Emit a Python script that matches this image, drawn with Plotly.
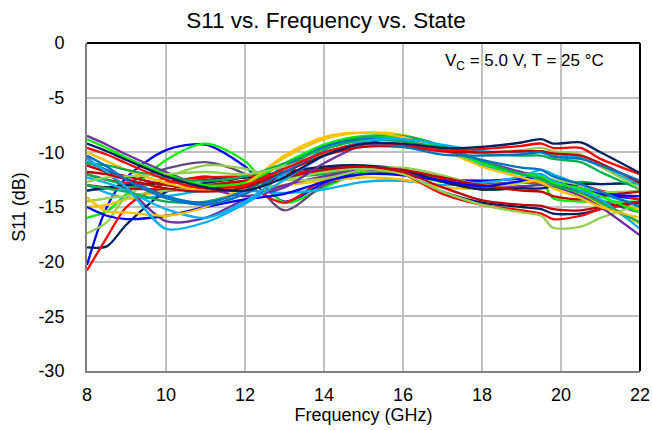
import plotly.graph_objects as go

freq = [8, 8.5, 9, 10, 11, 12, 13, 14, 15, 16, 17, 18, 19, 19.5, 19.8, 20.5, 21, 22]
x_ticks = [8, 10, 12, 14, 16, 18, 20, 22]
y_ticks = [0, -5, -10, -15, -20, -25, -30]
y_tick_text = ["0", "-5", "-10", "-15", "-20", "-25", "-30"]

N = "#002060"; R = "#FF0000"; DR = "#C00000"; O = "#FFC000"; LG = "#92D050"
G = "#00B050"; L = "#00EE00"; LB = "#00B0F0"; B = "#0070C0"; BB = "#0000FF"
P = "#7030A0"; GP = "#604A7B"

# top band throughout
t1 = [-9.2,-9.9,-10.7,-12.2,-13.2,-13.5,-12.3,-10.3,-9.2,-9.2,-9.6,-9.5,-9.1,-8.8,-9.2,-9.1,-10.0,-11.9]
t2 = [-9.6,-10.2,-11.0,-12.5,-13.3,-13.0,-11.5,-10.0,-9.2,-9.3,-9.8,-9.7,-9.4,-9.2,-9.6,-9.6,-10.6,-12.0]
t3 = [-10.3,-11.3,-12.5,-14.2,-14.8,-13.8,-11.8,-10.0,-9.3,-9.5,-10.2,-10.3,-10.2,-10.0,-10.4,-10.6,-11.2,-12.6]
t4 = [-11.8,-12.0,-12.5,-13.3,-13.6,-13.2,-11.8,-10.3,-9.5,-9.5,-9.9,-10.0,-9.9,-9.9,-10.1,-10.3,-11.0,-12.8]
t5 = [-12.7,-12.3,-12.2,-12.0,-11.8,-12.0,-11.3,-10.2,-9.5,-9.4,-9.8,-10.0,-9.8,-9.6,-9.9,-10.2,-11.3,-13.3]
t6 = [-10.6,-11.8,-13.2,-17.0,-16.4,-14.7,-12.5,-10.3,-9.0,-8.8,-9.3,-9.9,-10.0,-9.9,-10.2,-10.5,-11.3,-13.0]
t7 = [-11.0,-11.2,-11.6,-12.3,-12.6,-12.2,-11.0,-9.7,-8.9,-9.0,-9.6,-10.1,-10.3,-10.3,-10.6,-10.9,-11.8,-13.4]
# top at 15, descending to the right
d1 = [-10.0,-10.8,-11.6,-12.8,-13.5,-12.8,-10.5,-8.8,-8.2,-8.4,-9.5,-11.0,-12.0,-12.4,-13.0,-13.8,-14.8,-16.5]
d2 = [-8.5,-9.3,-10.2,-11.8,-13.2,-14.0,-13.2,-11.0,-9.3,-8.6,-9.5,-10.8,-11.8,-12.3,-13.0,-14.0,-15.0,-17.6]
d3 = [-12.3,-12.8,-13.5,-15.2,-16.0,-14.5,-12.0,-9.8,-8.7,-8.8,-9.8,-11.2,-12.0,-12.0,-12.6,-13.5,-14.3,-17.0]
d4 = [-8.8,-9.6,-10.5,-12.0,-13.0,-12.8,-11.0,-9.3,-8.5,-8.6,-9.6,-11.0,-12.0,-12.2,-12.8,-13.3,-14.0,-15.5]
d5 = [-13.0,-13.3,-13.6,-14.5,-14.5,-13.5,-11.5,-9.5,-8.6,-8.5,-9.4,-10.8,-12.0,-12.5,-13.0,-13.7,-14.6,-16.4]
d6 = [-14.1,-15.4,-15.5,-15.8,-15.0,-13.0,-10.3,-8.6,-8.2,-8.6,-9.8,-11.3,-12.3,-12.8,-13.3,-14.2,-15.0,-16.0]
d7 = [-10.9,-11.6,-12.4,-14.0,-14.6,-13.5,-11.3,-9.5,-8.8,-8.9,-9.8,-10.7,-11.4,-11.6,-12.2,-12.9,-13.6,-15.0]
# middle band
m1 = [-20.3,-15.0,-12.3,-9.8,-9.3,-11.3,-14.5,-12.8,-11.7,-11.8,-12.4,-12.6,-12.4,-12.2,-12.6,-13.3,-13.8,-14.3]
m2 = [-16.0,-15.4,-13.8,-10.7,-9.2,-10.8,-14.6,-13.2,-11.8,-12.0,-12.7,-13.0,-12.8,-12.6,-14.2,-14.5,-14.5,-14.5]
m3 = [-13.5,-13.3,-12.8,-11.5,-10.9,-12.0,-15.3,-13.0,-12.0,-12.0,-12.5,-12.9,-12.7,-12.5,-13.0,-13.6,-14.5,-16.5]
m4 = [-12.0,-12.5,-12.8,-12.8,-12.2,-13.0,-14.6,-12.5,-11.6,-11.6,-12.4,-13.0,-12.8,-12.8,-13.2,-13.0,-13.5,-14.3]
m5 = [-13.0,-13.7,-14.2,-14.0,-13.5,-13.5,-13.7,-13.4,-12.7,-12.6,-13.0,-12.8,-12.2,-11.6,-12.0,-13.0,-13.8,-14.8]
m6 = [-15.0,-14.8,-14.3,-13.5,-13.0,-13.2,-13.0,-12.6,-12.3,-12.5,-13.2,-13.3,-12.8,-12.6,-13.0,-13.8,-14.5,-15.2]
m7 = [-12.0,-12.5,-13.0,-13.5,-13.2,-12.8,-12.3,-12.0,-11.5,-11.6,-12.6,-13.4,-13.2,-12.9,-13.0,-12.7,-12.9,-12.8]
m8 = [-10.5,-11.9,-13.2,-16.3,-16.0,-14.3,-13.0,-12.2,-11.6,-11.8,-12.6,-13.3,-13.1,-13.0,-13.1,-13.6,-14.4,-15.5]
m9 = [-18.7,-18.6,-16.6,-13.6,-12.8,-12.3,-11.8,-11.3,-11.2,-11.6,-12.7,-13.4,-13.3,-13.3,-13.1,-12.9,-12.9,-12.8]
m10 = [-17.4,-16.4,-14.0,-12.3,-11.2,-11.5,-12.5,-12.4,-11.6,-11.4,-12.1,-13.0,-12.7,-12.3,-12.5,-13.0,-13.6,-13.5]
m11 = [-13.0,-13.2,-13.3,-13.4,-13.0,-12.6,-12.0,-11.6,-11.4,-11.6,-12.3,-13.0,-13.5,-13.6,-14.0,-14.3,-14.0,-13.6]
m12 = [-15.0,-15.8,-16.1,-15.8,-15.0,-14.3,-13.8,-12.7,-12.0,-12.1,-12.6,-13.1,-12.6,-12.2,-12.8,-13.4,-13.8,-14.0]
# lower band on the right
l1 = [-13.5,-13.2,-13.0,-12.8,-12.5,-12.3,-12.0,-11.5,-11.4,-12.0,-13.6,-14.6,-15.0,-15.2,-15.6,-15.6,-15.2,-14.6]
l2 = [-20.8,-17.8,-15.0,-12.8,-12.3,-12.2,-12.0,-11.6,-11.4,-12.0,-13.8,-14.8,-15.3,-15.6,-16.1,-15.8,-15.2,-14.5]
l3 = [-14.5,-14.2,-14.0,-13.5,-13.2,-13.0,-12.5,-11.8,-11.5,-12.0,-13.6,-14.8,-15.5,-15.8,-16.9,-16.8,-16.0,-14.8]
l4 = [-11.2,-11.8,-12.2,-13.0,-13.3,-13.0,-12.3,-11.6,-11.3,-11.8,-13.2,-14.4,-14.8,-14.9,-15.2,-15.3,-15.0,-14.5]

series = [
    (m1, BB), (m2, L), (m3, GP), (m4, R), (m5, LB), (m6, O), (m7, G), (m8, P),
    (m9, N), (m10, LG), (m11, DR), (m12, BB),
    (l1, N), (l2, R), (l3, LG), (l4, DR),
    (d1, O), (d2, P), (d3, LB), (d4, L), (d5, G), (d6, O), (d7, B),
    (t7, G), (t6, LB), (t5, LG), (t4, DR), (t3, B), (t2, R), (t1, N),
]

fig = go.Figure()
for vals, col in series:
    fig.add_trace(go.Scatter(x=freq, y=vals, mode="lines",
                             line=dict(color=col, width=2.3, shape="spline", smoothing=0.8),
                             showlegend=False, hoverinfo="skip"))

font = "Liberation Sans, Arial, sans-serif"
fig.update_layout(
    width=652, height=430,
    margin=dict(l=87, r=12, t=43, b=59),
    paper_bgcolor="white", plot_bgcolor="white",
    font=dict(family=font, size=18, color="black"),
    title=dict(text="S11 vs. Frequency vs. State", x=0.5, xref="container",
               y=1 - 20 / 430, yref="container", xanchor="center", yanchor="middle",
               font=dict(size=22.5, family=font, color="black")),
)
fig.update_xaxes(range=[8, 22], tickvals=x_ticks, showgrid=True, gridcolor="#C0C0C0", gridwidth=1.5,
                 showline=True, linecolor="#808080", linewidth=2, zeroline=False, automargin=False,
                 ticks="outside", ticklen=6, tickcolor="rgba(0,0,0,0)",
                 title=dict(text="Frequency (GHz)", standoff=2, font=dict(size=18)),
                 tickfont=dict(size=18))
fig.update_yaxes(range=[-30, 0], tickvals=y_ticks, ticktext=y_tick_text,
                 showgrid=True, gridcolor="#C0C0C0", gridwidth=1.5,
                 showline=True, linecolor="#808080", linewidth=2, zeroline=False, automargin=False,
                 ticks="outside", ticklen=17, tickcolor="rgba(0,0,0,0)",
                 title=dict(text="S11 (dB)", standoff=8, font=dict(size=18)),
                 tickfont=dict(size=18))
fig.add_shape(type="line", xref="paper", yref="paper", x0=0, x1=1, y0=1, y1=1,
              line=dict(color="black", width=2))
fig.add_shape(type="line", xref="paper", yref="paper", x0=1, x1=1, y0=0, y1=1,
              line=dict(color="black", width=2))
fig.add_annotation(text="V<sub>C</sub> = 5.0 V, T = 25 °C", xref="paper", yref="paper",
                   x=0.9385, y=0.942, xanchor="right", yanchor="middle", showarrow=False,
                   font=dict(size=17, family=font, color="black"))

fig.write_html("out.html", config={"displayModeBar": False},
               post_script="document.body.style.margin='0';")
